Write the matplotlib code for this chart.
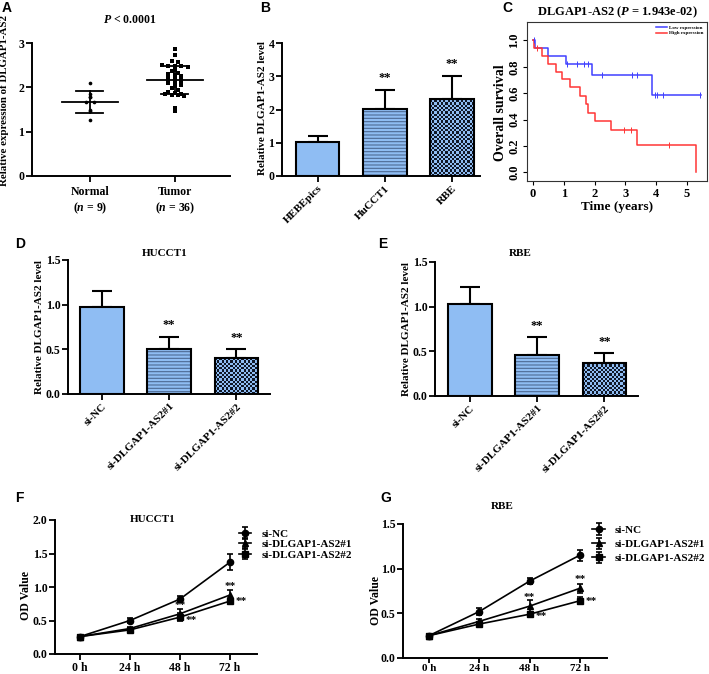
import numpy as np
import matplotlib
matplotlib.use("Agg")
import matplotlib.pyplot as plt
from matplotlib.colors import ListedColormap

plt.rcParams['font.family'] = ['Liberation Serif', 'DejaVu Serif']
plt.rcParams['font.weight'] = 'bold'
plt.rcParams['axes.titleweight'] = 'bold'
plt.rcParams['axes.labelweight'] = 'bold'
plt.rcParams['mathtext.fontset'] = 'custom'
plt.rcParams['mathtext.it'] = 'Liberation Serif:italic:bold'
plt.rcParams['mathtext.rm'] = 'Liberation Serif:bold'
plt.rcParams['mathtext.bf'] = 'Liberation Serif:bold'
plt.rcParams['hatch.linewidth'] = 0.8

# ---------------- data ----------------
# Panel A
normal_vals = [2.09, 1.86, 1.79, 1.78, 1.68, 1.67, 1.48, 1.46, 1.27]
tumor_vals = [2.86, 2.72, 2.60, 2.57, 2.50, 2.48, 2.47, 2.47, 2.45, 2.40, 2.36, 2.32,
              2.30, 2.27, 2.25, 2.22, 2.20, 2.18, 2.15, 2.15, 2.12, 2.10, 2.08, 2.05,
              2.02, 1.98, 1.95, 1.90, 1.87, 1.86, 1.85, 1.83, 1.82, 1.80, 1.53, 1.46]
a_labels = ["Normal\n($n$ = 9)", "Tumor\n($n$ = 36)"]

# Panel B
b_cats = ["HEBEpics", "HuCCT1", "RBE"]
b_vals = [1.02, 2.02, 2.33]
b_err = [0.19, 0.56, 0.67]
b_sig = ["", "**", "**"]

# Panel C (Kaplan-Meier)
low_t = [0, 0.08, 0.49, 1.07, 1.93, 3.86, 5.45]
low_s = [1.0, 0.94, 0.88, 0.82, 0.74, 0.59, 0.59]
low_cens = [0.03, 1.12, 1.43, 1.65, 1.80, 2.23, 3.23, 3.37, 3.97, 4.04, 4.22, 5.43]
high_t = [0, 0.05, 0.29, 0.49, 0.74, 0.93, 1.20, 1.52, 1.73, 1.78, 2.03, 2.54, 3.37, 5.30]
high_s = [1.0, 0.94, 0.88, 0.82, 0.76, 0.71, 0.65, 0.58, 0.52, 0.45, 0.39, 0.32, 0.21, 0.0]
high_cens = [0.12, 2.96, 3.17, 4.42]

# Panels D, E
si_cats = ["si-NC", "si-DLGAP1-AS2#1", "si-DLGAP1-AS2#2"]
d_vals = [0.97, 0.50, 0.40]
d_err = [0.18, 0.14, 0.10]
e_vals = [1.03, 0.46, 0.37]
e_err = [0.19, 0.20, 0.11]
de_sig = ["", "**", "**"]

# Panels F, G
hours = [0, 24, 48, 72]
hour_labels = ["0 h", "24 h", "48 h", "72 h"]
series_names = ["si-NC", "si-DLGAP1-AS2#1", "si-DLGAP1-AS2#2"]
f_means = [[0.26, 0.50, 0.82, 1.37],
           [0.26, 0.38, 0.60, 0.88],
           [0.26, 0.36, 0.55, 0.79]]
f_errs = [[0.02, 0.03, 0.04, 0.12],
          [0.02, 0.02, 0.07, 0.07],
          [0.02, 0.02, 0.06, 0.03]]
g_means = [[0.25, 0.52, 0.86, 1.15],
           [0.25, 0.41, 0.58, 0.78],
           [0.25, 0.38, 0.49, 0.64]]
g_errs = [[0.02, 0.04, 0.03, 0.06],
          [0.02, 0.03, 0.07, 0.05],
          [0.02, 0.02, 0.03, 0.04]]

# ---------------- layout helpers ----------------
W, H = 709, 674
fig = plt.figure(figsize=(W / 100, H / 100), dpi=100)


def ax_px(x0, y0, x1, y1):
    return fig.add_axes([x0 / W, 1 - y1 / H, (x1 - x0) / W, (y1 - y0) / H])


def prism_style(ax, ls=8):
    for s in ['top', 'right']:
        ax.spines[s].set_visible(False)
    for s in ['left', 'bottom']:
        ax.spines[s].set_linewidth(1.4)
    ax.tick_params(direction='out', length=4, width=1.3, labelsize=ls, pad=1.5)


def panel_letter(x, y, s):
    fig.text(x / W, 1 - y / H, s, family='Liberation Sans', weight='bold',
             fontsize=10, va='top', ha='left')


LIGHT = '#8fbdf3'
STRIPE = '#4d6b94'
DARK = '#101828'


def bar_panel(ax, cats, vals, errs, sig, ylim, yticks, xlim, ytick_fmt, star_off, ls):
    x = np.arange(len(cats))
    ax.errorbar(x, vals, yerr=[np.zeros(len(vals)), errs], fmt='none',
                ecolor='black', elinewidth=1.5, capsize=7.5, capthick=1.5, zorder=1)
    ax.bar(x[0], vals[0], width=0.65, color=LIGHT, edgecolor='none', zorder=2)
    ax.bar(x[1], vals[1], width=0.65, color=LIGHT, edgecolor=STRIPE, linewidth=0,
           hatch='-----', zorder=2)
    p3 = ax.bar(x[2], vals[2], width=0.65, color=LIGHT, edgecolor='none', zorder=2)[0]
    ax.bar(x, vals, width=0.65, color='none', edgecolor='black', linewidth=1.5, zorder=3)
    ax.set_xlim(*xlim)
    ax.set_ylim(*ylim)
    # checkerboard fill for third bar
    (px0, py0), (px1, py1) = ax.transData.transform(
        [(p3.get_x(), 0), (p3.get_x() + p3.get_width(), p3.get_height())])
    cols = max(1, int(round((px1 - px0) / 2.2)))
    rows = max(1, int(round((py1 - py0) / 2.2)))
    arr = np.add.outer(np.arange(rows), np.arange(cols)) % 2
    im = ax.imshow(arr, extent=(p3.get_x(), p3.get_x() + p3.get_width(), 0, p3.get_height()),
                   origin='lower', aspect='auto', interpolation='nearest',
                   cmap=ListedColormap([LIGHT, DARK]), zorder=2.5)
    im.set_clip_path(p3)
    ax.set_xlim(*xlim)
    ax.set_ylim(*ylim)
    ax.set_yticks(yticks)
    ax.set_yticklabels([ytick_fmt.format(t) for t in yticks])
    ax.set_xticks(x)
    prism_style(ax, ls)
    ax.set_xticklabels(cats, rotation=45, ha='right', rotation_mode='anchor', fontsize=8)
    for xi, v, e, s in zip(x, vals, errs, sig):
        if s:
            ax.text(xi, v + e + star_off, s, ha='center', va='bottom', fontsize=9)
    ax.set_aspect('auto')


def ylab(ax, s, x, y, fs):
    ax.set_ylabel(s, fontsize=fs)
    ax.yaxis.set_label_coords(x, y)


def atitle(ax, s, x, y, fs):
    ax.text(x, y, s, transform=ax.transAxes, ha='center', va='center', fontsize=fs,
            weight='bold')


# ---------------- Panel A ----------------
axA = ax_px(32, 43, 230, 176)


def swarm_offsets(vals, bin_h, step):
    vals = np.asarray(vals)
    offs = np.zeros(len(vals))
    bins = np.round(vals / bin_h).astype(int)
    for b in np.unique(bins):
        idx = np.where(bins == b)[0]
        n = len(idx)
        offs[idx] = (np.arange(n) - (n - 1) / 2) * step
    return offs


for i, (vals, mk) in enumerate([(normal_vals, 'o'), (tumor_vals, 's')]):
    vals = np.asarray(vals)
    xo = i + swarm_offsets(vals, 0.065, 0.09 if i == 0 else 0.075)
    axA.scatter(xo, vals, s=7, marker=mk, color='black', zorder=3, linewidths=0)
    m = vals.mean()
    sd = vals.std(ddof=1)
    axA.plot([i - 0.33, i + 0.33], [m, m], color='black', lw=1.3)
    axA.plot([i, i], [m - sd, m + sd], color='black', lw=1.3)
    for yy in (m - sd, m + sd):
        axA.plot([i - 0.16, i + 0.16], [yy, yy], color='black', lw=1.3)
axA.set_xlim(-0.68, 1.65)
axA.set_ylim(0, 3)
axA.set_yticks([0, 1, 2, 3])
axA.set_xticks([0, 1])
prism_style(axA, 8.5)
axA.set_xticklabels(a_labels, fontsize=8.5, linespacing=1.3)
axA.tick_params(axis='x', pad=3)
atitle(axA, "$P$ < 0.0001", 0.495, 1.173, 8.5)
ylab(axA, "Relative expression of DLGAP1-AS2", -0.116, 0.57, 7.8)

# ---------------- Panel B ----------------
axB = ax_px(282, 43, 480, 176)
bar_panel(axB, b_cats, b_vals, b_err, b_sig, (0, 4), [0, 1, 2, 3, 4], (-0.53, 2.42), "{:d}",
          0.18, 8.5)
ylab(axB, "Relative DLGAP1-AS2 level", -0.076, 0.51, 8)

# ---------------- Panel C ----------------
axC = ax_px(527, 22, 707, 181)
axC.step(low_t, low_s, where='post', color='#4040ff', lw=1.1)
axC.step(high_t, high_s, where='post', color='#ff3535', lw=1.1)


def surv_at(tt, ss, t):
    idx = np.searchsorted(tt, t, side='right') - 1
    return np.asarray(ss)[idx]


axC.plot(low_cens, surv_at(low_t, low_s, low_cens), '|', color='#4040ff', ms=4, mew=0.7)
axC.plot(high_cens, surv_at(high_t, high_s, high_cens), '|', color='#ff3535', ms=4, mew=0.7)
axC.set_xlim(-0.19, 5.65)
axC.set_ylim(-0.065, 1.14)
axC.set_xticks([0, 1, 2, 3, 4, 5])
axC.set_yticks([0.0, 0.2, 0.4, 0.6, 0.8, 1.0])
axC.set_yticklabels(["0.0", "0.2", "0.4", "0.6", "0.8", "1.0"], rotation=90, va='center')
for s in axC.spines.values():
    s.set_linewidth(0.8)
    s.set_color('#333333')
axC.tick_params(direction='out', length=3, width=0.8, labelsize=9, pad=2)
axC.set_xlabel("Time (years)", fontsize=9.5, labelpad=1)
ylab(axC, "Overall survival", -0.111, 0.43, 10)
atitle(axC, "DLGAP1-AS2 ($P$ = 1.943e-02)", 0.5, 1.063, 9)
axC.plot([], [], color='#4040ff', lw=1.1, label="Low expression")
axC.plot([], [], color='#ff3535', lw=1.1, label="High expression")
axC.legend(loc='upper right', fontsize=3.6, frameon=False, handlelength=2.2,
           handletextpad=0.4, labelspacing=0.15, borderaxespad=0.3)

# ---------------- Panel D ----------------
axD = ax_px(68, 260, 270, 394)
bar_panel(axD, si_cats, d_vals, d_err, de_sig, (0, 1.5), [0.0, 0.5, 1.0, 1.5],
          (-0.506, 2.5), "{:.1f}", 0.06, 8.5)
atitle(axD, "HUCCT1", 0.48, 1.052, 8)
ylab(axD, "Relative DLGAP1-AS2 level", -0.118, 0.5, 8)

# ---------------- Panel E ----------------
axE = ax_px(435, 262, 638, 396)
bar_panel(axE, si_cats, e_vals, e_err, de_sig, (0, 1.5), [0.0, 0.5, 1.0, 1.5],
          (-0.52, 2.5), "{:.1f}", 0.06, 8.5)
atitle(axE, "RBE", 0.42, 1.067, 8)
ylab(axE, "Relative DLGAP1-AS2 level", -0.12, 0.5, 8)

# ---------------- Panels F, G ----------------
markers = ['o', '^', 's']


def growth_panel(ax, means, errs, ylim, yticks, xlim, stars, xls):
    for m, e, mk, name in zip(means, errs, markers, series_names):
        ax.errorbar(hours, m, yerr=e, color='black', marker=mk, ms=4.5, lw=1.2,
                    capsize=2.5, elinewidth=1.2, capthick=1.2, label=name)
    for (xx, yy, s) in stars:
        ax.text(xx, yy, s, ha='center', va='center', fontsize=8)
    ax.set_xlim(*xlim)
    ax.set_ylim(*ylim)
    ax.set_yticks(yticks)
    ax.set_yticklabels(["{:.1f}".format(t) for t in yticks])
    ax.set_xticks(hours)
    prism_style(ax, 8.5)
    ax.set_xticklabels(hour_labels, fontsize=xls)


axF = ax_px(55, 520, 257, 654)
growth_panel(axF, f_means, f_errs, (0, 2.0), [0.0, 0.5, 1.0, 1.5, 2.0], (-12, 85),
             [(48, 0.72, "**"), (53.5, 0.5, "**"), (72, 1.0, "**"), (77.5, 0.79, "**")], 8.5)
atitle(axF, "HUCCT1", 0.485, 1.0, 8)
ylab(axF, "OD Value", -0.114, 0.44, 8.5)
axF.legend(loc='upper left', bbox_to_anchor=(0.89, 0.965), fontsize=8, frameon=False,
           handlelength=1.1, handletextpad=0.9, labelspacing=0.05, borderaxespad=0)

axG = ax_px(403, 524, 607, 658)
growth_panel(axG, g_means, g_errs, (0, 1.5), [0.0, 0.5, 1.0, 1.5], (-12.4, 85),
             [(48, 0.68, "**"), (53.5, 0.47, "**"), (72, 0.88, "**"), (77.5, 0.63, "**")], 8)
axG.tick_params(axis='x', pad=0.5, length=3.5)
atitle(axG, "RBE", 0.485, 1.134, 8)
ylab(axG, "OD Value", -0.103, 0.43, 8.5)
axG.legend(loc='upper left', bbox_to_anchor=(0.907, 1.025), fontsize=8, frameon=False,
           handlelength=1.1, handletextpad=0.9, labelspacing=0.4, borderaxespad=0)

# panel letters
panel_letter(2, 1, "A")
panel_letter(260, 1, "B")
panel_letter(502, 1, "C")
panel_letter(15, 237, "D")
panel_letter(378, 237, "E")
panel_letter(15, 491, "F")
panel_letter(380, 491, "G")

fig.savefig("out.png", dpi=100)
